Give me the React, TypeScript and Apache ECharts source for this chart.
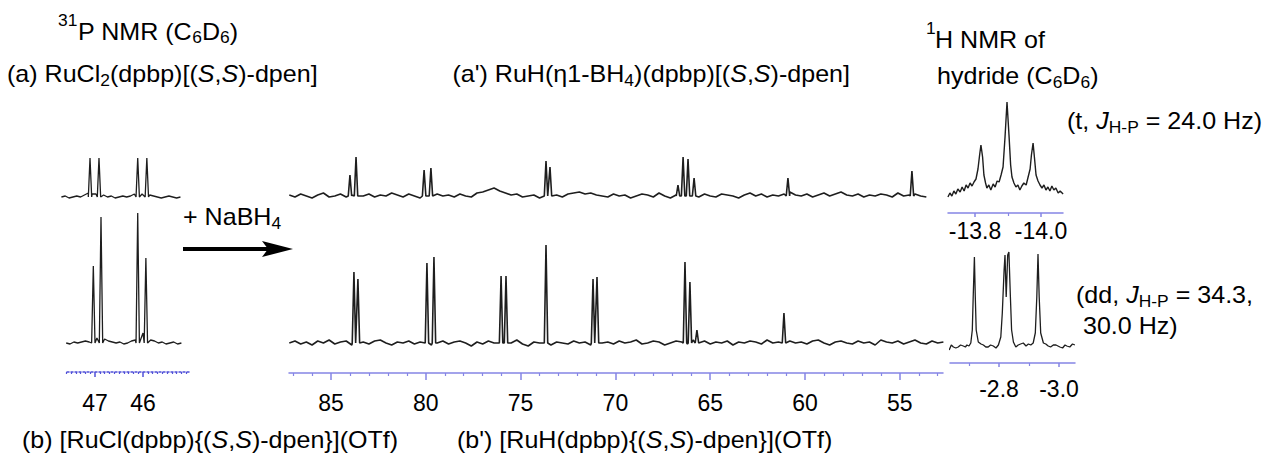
import React, { useEffect, useRef } from "react";
import * as echarts from "echarts";

const FONT = "'Liberation Sans', Arial, Helvetica, sans-serif";
const TEXT_SIZE = 23;
const TEXT_SCALE_X = 1.09;

// ---------- tick labels ----------
const leftTickLabels = [47, 46];
const leftMinorTicks = [47.6, 47.5, 47.4, 47.3, 47.2, 47.1, 46.9, 46.8, 46.7, 46.6, 46.5, 46.4, 46.3, 46.2, 46.1, 45.9, 45.8, 45.7, 45.6, 45.5, 45.4, 45.3, 45.2, 45.1];
const midTickLabels = [85, 80, 75, 70, 65, 60, 55];
const midMinorTicks = [87, 86, 84, 83, 82, 81, 79, 78, 77, 76, 74, 73, 72, 71, 69, 68, 67, 66, 64, 63, 62, 61, 59, 58, 57, 56, 54, 53];
const hydrideTTickLabels = [-13.8, -14.0];
const hydrideTMinorTicks = [-13.9];
const hydrideDTickLabels = [-2.8, -3.0];
const hydrideDMinorTicks = [-2.7, -2.9];

// ---------- (a) 31P, RuCl2(dpbp)[(S,S)-dpen] ----------
const specAStart = 47.7;
const specAStep = 0.08;
const specABaseline = [0, 1, -1, 0, 1, 0, 2, 4, 3, 3, 2, 2, 0, 1, -1, 0, 1, 0, 1, 3, 4, 3, 3, 2, 1, 0, -1, 0, 1, 0, -1, 0];
const specAPeaks = [[47.104, 39], [46.917, 39], [46.11, 39], [45.92, 39]];

// ---------- (b) 31P, [RuCl(dpbp){(S,S)-dpen}](OTf) ----------
const specBStart = 47.6;
const specBStep = 0.08;
const specBBaseline = [0, -1, 1, 0, 1, 2, 1, 3, 5, 6, 4, 2, 1, 0, 1, -1, 0, 2, 3, 6, 10, 5, 3, 2, 0, 1, -1, 0, 1, -1, 0];
const specBPeaks = [[47.035, 77], [46.875, 126], [46.11, 130], [45.94, 85]];

// ---------- (a') 31P, RuH(η1-BH4)(dpbp)[(S,S)-dpen] ----------
const specA2Start = 87.2;
const specA2Step = 0.3;
const specA2Baseline = [
  1, -1, 2, 0, -2, 1, 3, -1, 0, 2,
  -1, 1, -2, 0, 2, -1, 1, 0, 3, 1,
  -1, 2, 0, -2, 1, -1, 2, 0, 1, -1,
  2, 0, -1, 3, 4, 6, 8, 5, 3, 1,
  2, -1, 0, 1, -2, 2, 0, 1, -1, 2,
  3, 4, 2, 3, 1, 0, -1, 2, 0, 1,
  -2, 0, 2, 1, -1, 3, 0, -2, 1, 2,
  0, 1, -1, 2, 0, -1, 2, 1, 0, -2,
  1, 3, 0, 2, -1, 1, 0, 2, 4, 1,
  0, 2, -1, 1, 3, 0, 2, 4, 1, 0,
  2, -1, 1, 0, 2, 1, -1, 3, 0, 1,
  2, 0, -1,
];
const specA2Peaks = [
  [84.0, 21], [83.68, 39], [80.09, 26], [79.73, 28], [73.66, 35], [73.45, 29],
  [66.7, 11], [66.43, 39], [66.17, 37], [65.85, 18], [60.9, 18], [54.36, 25],
];

// ---------- (b') 31P, [RuH(dpbp){(S,S)-dpen}](OTf) ----------
const specB2Start = 87.2;
const specB2Step = 0.3;
const specB2Baseline = [
  0, 2, -1, 1, -2, 2, 0, 3, -1, 1,
  2, -2, 0, 1, -1, 2, 3, 0, -2, 1,
  0, 2, -1, 1, 3, -2, 0, 2, -1, 1,
  2, 0, -3, 1, -1, 2, 0, 1, -2, 0,
  3, -1, -3, 1, 0, 2, -2, 1, 0, -1,
  2, 0, 1, -2, 3, 0, 1, -1, 2, 0,
  1, 3, -1, 0, 2, 1, -2, 0, 2, 1,
  -1, 3, 0, 2, -1, 1, 0, 2, -2, 1,
  0, 2, 1, -1, 3, 0, 1, -2, 2, 0,
  1, -1, 2, 3, 0, -2, 1, 2, 0, -1,
  2, 0, 1, -2, 3, 1, 0, 2, -1, 1,
  3, 0, -1, 2, 0, 1,
];
const specB2Peaks = [
  [83.79, 71], [83.58, 64], [79.94, 80], [79.57, 86], [76.03, 67], [75.77, 67],
  [73.66, 98], [71.18, 64], [70.97, 66], [66.33, 81], [66.07, 61], [65.7, 13], [61.11, 30],
];

// ---------- 1H hydride, (a') triplet ----------
const hydrideT = [
  [-13.718, 0], [-13.724, 4], [-13.73, 1], [-13.736, 6], [-13.742, 3], [-13.748, 8], [-13.755, 5],
  [-13.761, 10], [-13.767, 6], [-13.773, 12], [-13.779, 9], [-13.785, 14], [-13.791, 11], [-13.797, 15],
  [-13.803, 18], [-13.809, 28], [-13.814, 42], [-13.818, 52], [-13.823, 40], [-13.827, 22], [-13.832, 14],
  [-13.836, 9], [-13.842, 12], [-13.848, 7], [-13.855, 13], [-13.861, 10], [-13.867, 16], [-13.873, 15],
  [-13.879, 22], [-13.885, 30], [-13.891, 60], [-13.897, 95], [-13.903, 62], [-13.908, 32], [-13.912, 20],
  [-13.918, 14], [-13.924, 10], [-13.93, 12], [-13.936, 7], [-13.942, 11], [-13.948, 14], [-13.955, 12],
  [-13.961, 20], [-13.967, 28], [-13.971, 42], [-13.976, 54], [-13.98, 40], [-13.985, 22], [-13.991, 16],
  [-13.997, 12], [-14.003, 9], [-14.009, 12], [-14.015, 7], [-14.021, 10], [-14.027, 6], [-14.033, 11],
  [-14.039, 7], [-14.045, 9], [-14.052, 4], [-14.058, 6], [-14.067, 3],
];

// ---------- 1H hydride, (b') doublet of doublets ----------
const hydrideD = [
  [-2.634, -3], [-2.641, 2], [-2.648, 0], [-2.656, -1], [-2.664, 0], [-2.672, 2], [-2.681, 1], [-2.688, 0],
  [-2.693, 2], [-2.7, 1], [-2.706, 4], [-2.711, 17], [-2.714, 50], [-2.718, 90], [-2.721, 50], [-2.724, 17],
  [-2.731, 5], [-2.74, 3], [-2.748, 2], [-2.756, 0], [-2.764, 0], [-2.772, 2], [-2.781, 1], [-2.79, -1],
  [-2.798, 2], [-2.806, 10], [-2.811, 34], [-2.817, 77], [-2.82, 92], [-2.824, 50], [-2.829, 92], [-2.833, 95],
  [-2.838, 50], [-2.842, 17], [-2.848, 5], [-2.856, 0], [-2.864, 2], [-2.872, 3], [-2.881, 4], [-2.89, 1],
  [-2.898, 3], [-2.906, 2], [-2.914, 4], [-2.921, 14], [-2.926, 50], [-2.93, 93], [-2.934, 50], [-2.939, 14],
  [-2.948, 4], [-2.956, 3], [-2.964, 1], [-2.972, 0], [-2.981, 2], [-2.99, 2], [-3.003, 0], [-3.012, -1],
  [-3.02, 2], [-3.026, 1], [-3.036, 0], [-3.045, 3], [-3.053, 2],
];

// ---------- helpers ----------
function buildSpectrum(start: number, step: number, baseline: number[], peaks: number[][], hw: number) {
  const pts: number[][] = [];
  baseline.forEach((v, i) => {
    const p = start - i * step;
    if (peaks.every(([pp]) => Math.abs(pp - p) > hw)) pts.push([p, v]);
  });
  peaks.forEach(([pp, h]) => {
    pts.push([pp + hw, 0], [pp, h], [pp - hw, 0]);
  });
  return pts.sort((a, b) => b[0] - a[0]);
}

type Scale = { refPx: number; refPpm: number; pxPerPpm: number };
const LEFT_SCALE: Scale = { refPx: 95, refPpm: 47, pxPerPpm: 48 };
const MID_SCALE: Scale = { refPx: 331, refPpm: 85, pxPerPpm: 18.96 };
const RT_SCALE: Scale = { refPx: 975, refPpm: -13.8, pxPerPpm: 330 };
const RB_SCALE: Scale = { refPx: 999, refPpm: -2.8, pxPerPpm: 300 };
const ppmAt = (s: Scale, px: number) => s.refPpm - (px - s.refPx) / s.pxPerPpm;

type Panel = {
  x0: number; x1: number; base: number; H: number; D: number; scale: Scale; lw: number;
  data: number[][];
  axis?: { color: string; lineType: any; majorLen: number; minorLen: number; margin: number; ticks: number[]; minor: number[]; fmt: (v: number) => string };
};

const LINE_BLUE = "#8585e5";
const LEFT_BLUE = "#5050d8";

function buildOption() {
  const panels: Panel[] = [
    { x0: 61, x1: 183, base: 197, H: 45, D: 10, scale: LEFT_SCALE, lw: 1.3, data: buildSpectrum(specAStart, specAStep, specABaseline, specAPeaks, 0.035) },
    {
      x0: 66, x1: 189, base: 343, H: 135, D: 29, scale: LEFT_SCALE, lw: 1.3, data: buildSpectrum(specBStart, specBStep, specBBaseline, specBPeaks, 0.035),
      axis: { color: LEFT_BLUE, lineType: [2, 2], majorLen: 5, minorLen: 2, margin: 19, ticks: leftTickLabels, minor: leftMinorTicks, fmt: (v) => String(Math.round(v)) },
    },
    { x0: 289, x1: 943, base: 196, H: 45, D: 10, scale: MID_SCALE, lw: 1.6, data: buildSpectrum(specA2Start, specA2Step, specA2Baseline, specA2Peaks, 0.09) },
    {
      x0: 289, x1: 943, base: 343, H: 100, D: 30, scale: MID_SCALE, lw: 1.6, data: buildSpectrum(specB2Start, specB2Step, specB2Baseline, specB2Peaks, 0.09),
      axis: { color: LINE_BLUE, lineType: "solid", majorLen: 7, minorLen: 3, margin: 18, ticks: midTickLabels, minor: midMinorTicks, fmt: (v) => String(Math.round(v)) },
    },
    {
      x0: 948, x1: 1063, base: 197, H: 100, D: 16, scale: RT_SCALE, lw: 1.4, data: hydrideT,
      axis: { color: LINE_BLUE, lineType: "solid", majorLen: 4, minorLen: 3, margin: 6, ticks: hydrideTTickLabels, minor: hydrideTMinorTicks, fmt: (v) => v.toFixed(1) },
    },
    {
      x0: 950, x1: 1075, base: 347, H: 100, D: 16, scale: RB_SCALE, lw: 1.3, data: hydrideD,
      axis: { color: LINE_BLUE, lineType: "solid", majorLen: 4, minorLen: 3, margin: 14, ticks: hydrideDTickLabels, minor: hydrideDMinorTicks, fmt: (v) => v.toFixed(1) },
    },
  ];

  const grid: any[] = [];
  const xAxis: any[] = [];
  const yAxis: any[] = [];
  const series: any[] = [];

  const addGrid = (p: Panel) => {
    grid.push({ left: p.x0, width: p.x1 - p.x0, top: p.base - p.H, height: p.H + p.D, outerBoundsMode: "none", containLabel: false });
    return grid.length - 1;
  };

  panels.forEach((p) => {
    const gi = addGrid(p);
    const min = ppmAt(p.scale, p.x1);
    const max = ppmAt(p.scale, p.x0);
    const ax = p.axis;
    xAxis.push({
      type: "value", gridIndex: gi, min, max, inverse: true, position: "bottom",
      show: !!ax,
      splitLine: { show: false },
      axisLine: { show: !!ax, onZero: false, lineStyle: { color: ax ? ax.color : "#000", width: 1.5, type: ax ? ax.lineType : "solid" } },
      axisTick: ax ? { show: true, customValues: ax.ticks, length: ax.majorLen, lineStyle: { color: ax.color, width: 1.5 } } : { show: false },
      axisLabel: ax ? { show: true, customValues: ax.ticks, margin: ax.margin, color: "#000", fontSize: TEXT_SIZE, fontFamily: FONT, formatter: ax.fmt } : { show: false },
    });
    yAxis.push({ type: "value", gridIndex: gi, min: -p.D, max: p.H, show: false, splitLine: { show: false } });
    series.push({
      type: "line", xAxisIndex: gi, yAxisIndex: gi, data: p.data, symbol: "none", showSymbol: false,
      lineStyle: { color: "#1e1e1e", width: p.lw }, silent: true, animation: false,
    });
  });

  // minor tick overlays
  panels.forEach((p) => {
    if (!p.axis) return;
    const gi = addGrid(p);
    xAxis.push({
      type: "value", gridIndex: gi, min: ppmAt(p.scale, p.x1), max: ppmAt(p.scale, p.x0), inverse: true, position: "bottom",
      splitLine: { show: false },
      axisLine: { show: false, onZero: false },
      axisTick: { show: true, customValues: p.axis.minor, length: p.axis.minorLen, lineStyle: { color: p.axis.color, width: 1.2 } },
      axisLabel: { show: false },
    });
    yAxis.push({ type: "value", gridIndex: gi, min: 0, max: 1, show: false, splitLine: { show: false } });
  });

  const RICH = {
    sub: { fontSize: 16, fontFamily: FONT, fill: "#000", color: "#000", padding: [13, 0, 0, 0] },
    i: { fontSize: TEXT_SIZE, fontFamily: FONT, fontStyle: "italic", fill: "#000", color: "#000" },
  };
  const label = (x: number, y: number, text: string, align: string = "left") => ({
    type: "text", x, y, scaleX: TEXT_SCALE_X, silent: true,
    style: {
      text, fontSize: TEXT_SIZE, fontFamily: FONT, fill: "#000", lineHeight: 28,
      align, verticalAlign: "middle", textAlign: align, textVerticalAlign: "middle", rich: RICH,
    },
  });
  const sup = (x: number, y: number, text: string) => ({
    type: "text", x, y, scaleX: TEXT_SCALE_X, silent: true,
    style: { text, fontSize: 16, fontFamily: FONT, fill: "#000", align: "left", verticalAlign: "middle", textAlign: "left", textVerticalAlign: "middle" },
  });

  const graphic = [
    sup(58, 21, "31"),
    label(78, 31.5, "P NMR (C{sub|6}D{sub|6})"),
    label(7, 74, "(a) RuCl{sub|2}(dpbp)[({i|S},{i|S})-dpen]"),
    label(850, 74, "(a') RuH(η1-BH{sub|4})(dpbp)[({i|S},{i|S})-dpen]", "right"),
    sup(926, 29, "1"),
    label(935, 40, "H NMR of"),
    label(937, 76, "hydride (C{sub|6}D{sub|6})"),
    label(1067, 121, "(t, {i|J}{sub|H-P} = 24.0 Hz)"),
    label(183, 217, "+ NaBH{sub|4}"),
    label(1076, 295, "(dd, {i|J}{sub|H-P} = 34.3,"),
    label(1083, 325.5, "30.0 Hz)"),
    label(22, 440, "(b) [RuCl(dpbp){({i|S},{i|S})-dpen}](OTf)"),
    label(457, 440, "(b') [RuH(dpbp){({i|S},{i|S})-dpen}](OTf)"),
    { type: "line", silent: true, shape: { x1: 183, y1: 249, x2: 268, y2: 249 }, style: { stroke: "#000", lineWidth: 4 } },
    { type: "polygon", silent: true, shape: { points: [[293, 249], [262, 241], [268, 249], [262, 257]] }, style: { fill: "#000" } },
  ];

  return {
    animation: false,
    backgroundColor: "#ffffff",
    grid, xAxis, yAxis, series, graphic,
  };
}

export default function App() {
  const ref = useRef<HTMLDivElement>(null);
  useEffect(() => {
    const chart = echarts.init(ref.current!, null, { renderer: "svg" });
    chart.setOption(buildOption() as any);
    return () => chart.dispose();
  }, []);
  return (
    <div
      ref={ref}
      style={{ position: "absolute", left: 0, top: 0, width: 1268, height: 457, background: "#fff" }}
    />
  );
}
